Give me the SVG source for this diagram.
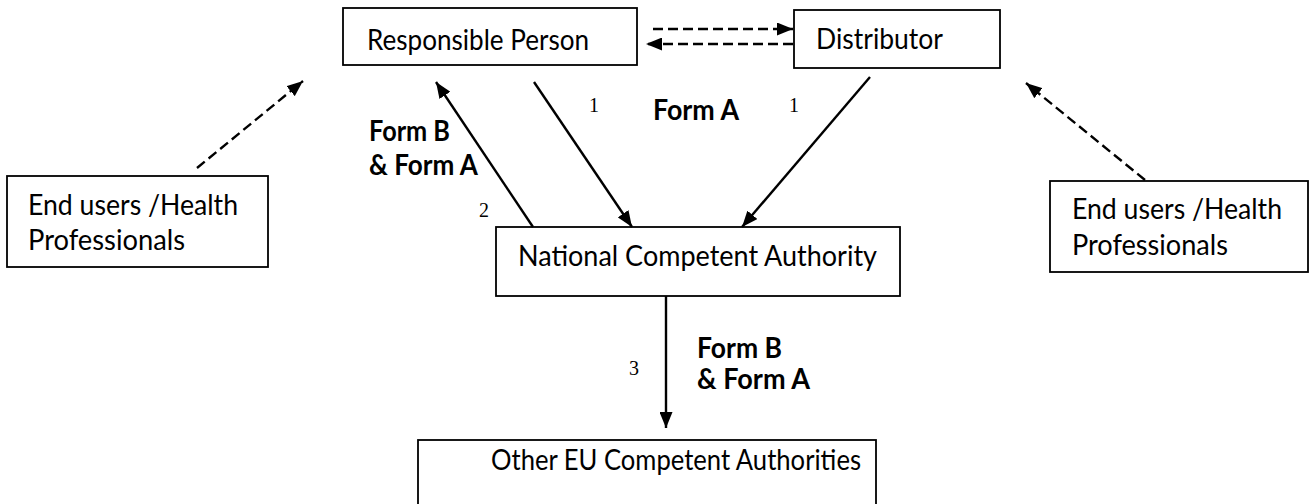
<svg xmlns="http://www.w3.org/2000/svg" width="1309" height="504" viewBox="0 0 1309 504">
<style>
.box{fill:#fff;stroke:#000;stroke-width:1.8}
.t{font-family:Lato,"Open Sans","Liberation Sans",sans-serif;font-size:29px;fill:#000}
.b{font-family:Lato,"Open Sans","Liberation Sans",sans-serif;font-size:28px;font-weight:bold;fill:#000}
.n{font-family:"Liberation Serif","Times New Roman",serif;font-size:20px;fill:#000}
.s{fill:none;stroke:#000;stroke-width:2.4}
.d{fill:none;stroke:#000;stroke-width:2.4;stroke-dasharray:10 5}
</style>
<defs>
<marker id="ah" markerUnits="userSpaceOnUse" markerWidth="16" markerHeight="13" refX="16" refY="6.5" orient="auto">
<path d="M0,0 L16,6.5 L0,13 z" fill="#000"/>
</marker>
</defs>
<rect width="1309" height="504" fill="#fff"/>
<g id="rp">
<rect class="box" x="343" y="8" width="294" height="57"/>
<text class="t" x="367" y="50" textLength="222" lengthAdjust="spacingAndGlyphs">Responsible Person</text>
</g>
<g id="dist">
<rect class="box" x="794" y="10" width="206" height="58"/>
<text class="t" x="816" y="49" textLength="127" lengthAdjust="spacingAndGlyphs">Distributor</text>
</g>
<g id="eu-left">
<rect class="box" x="7" y="176" width="261" height="91"/>
<text class="t" x="28" y="215" textLength="210" lengthAdjust="spacingAndGlyphs">End users /Health</text>
<text class="t" x="28" y="250" textLength="157" lengthAdjust="spacingAndGlyphs">Professionals</text>
</g>
<g id="eu-right">
<rect class="box" x="1050" y="181" width="258" height="91"/>
<text class="t" x="1072" y="219" textLength="210" lengthAdjust="spacingAndGlyphs">End users /Health</text>
<text class="t" x="1072" y="255" textLength="156" lengthAdjust="spacingAndGlyphs">Professionals</text>
</g>
<g id="nca">
<rect class="box" x="496" y="227" width="404" height="69"/>
<text class="t" x="518" y="266" textLength="359" lengthAdjust="spacingAndGlyphs">National Competent Authority</text>
</g>
<g id="other">
<rect class="box" x="418" y="440" width="458" height="80"/>
<text class="t" x="491" y="470" textLength="370" lengthAdjust="spacingAndGlyphs">Other EU Competent Authorities</text>
</g>
<g id="connectors">
<line class="s" x1="534" y1="82" x2="632" y2="227" marker-end="url(#ah)"/>
<line class="s" x1="870" y1="77" x2="742" y2="227" marker-end="url(#ah)"/>
<line class="s" x1="533" y1="227" x2="436" y2="82" marker-end="url(#ah)"/>
<line class="s" x1="666" y1="296" x2="666" y2="428" marker-end="url(#ah)"/>
<line class="d" x1="653" y1="29" x2="793" y2="29" marker-end="url(#ah)"/>
<line class="d" x1="793" y1="44" x2="646" y2="44" marker-end="url(#ah)"/>
<line class="d" x1="197" y1="168" x2="303" y2="81" marker-end="url(#ah)"/>
<line class="d" x1="1145" y1="180" x2="1026" y2="83" marker-end="url(#ah)"/>
</g>
<g id="labels">
<text class="n" x="589" y="112">1</text>
<text class="n" x="789" y="112">1</text>
<text class="n" x="479" y="217">2</text>
<text class="n" x="629" y="375">3</text>
<text class="b" x="653" y="120" textLength="86" lengthAdjust="spacingAndGlyphs">Form A</text>
<text class="b" x="369" y="141" textLength="81" lengthAdjust="spacingAndGlyphs">Form B</text>
<text class="b" x="369" y="175" textLength="109" lengthAdjust="spacingAndGlyphs">&amp; Form A</text>
<text class="b" x="697" y="358" textLength="85" lengthAdjust="spacingAndGlyphs">Form B</text>
<text class="b" x="697" y="389" textLength="113" lengthAdjust="spacingAndGlyphs">&amp; Form A</text>
</g>
</svg>
